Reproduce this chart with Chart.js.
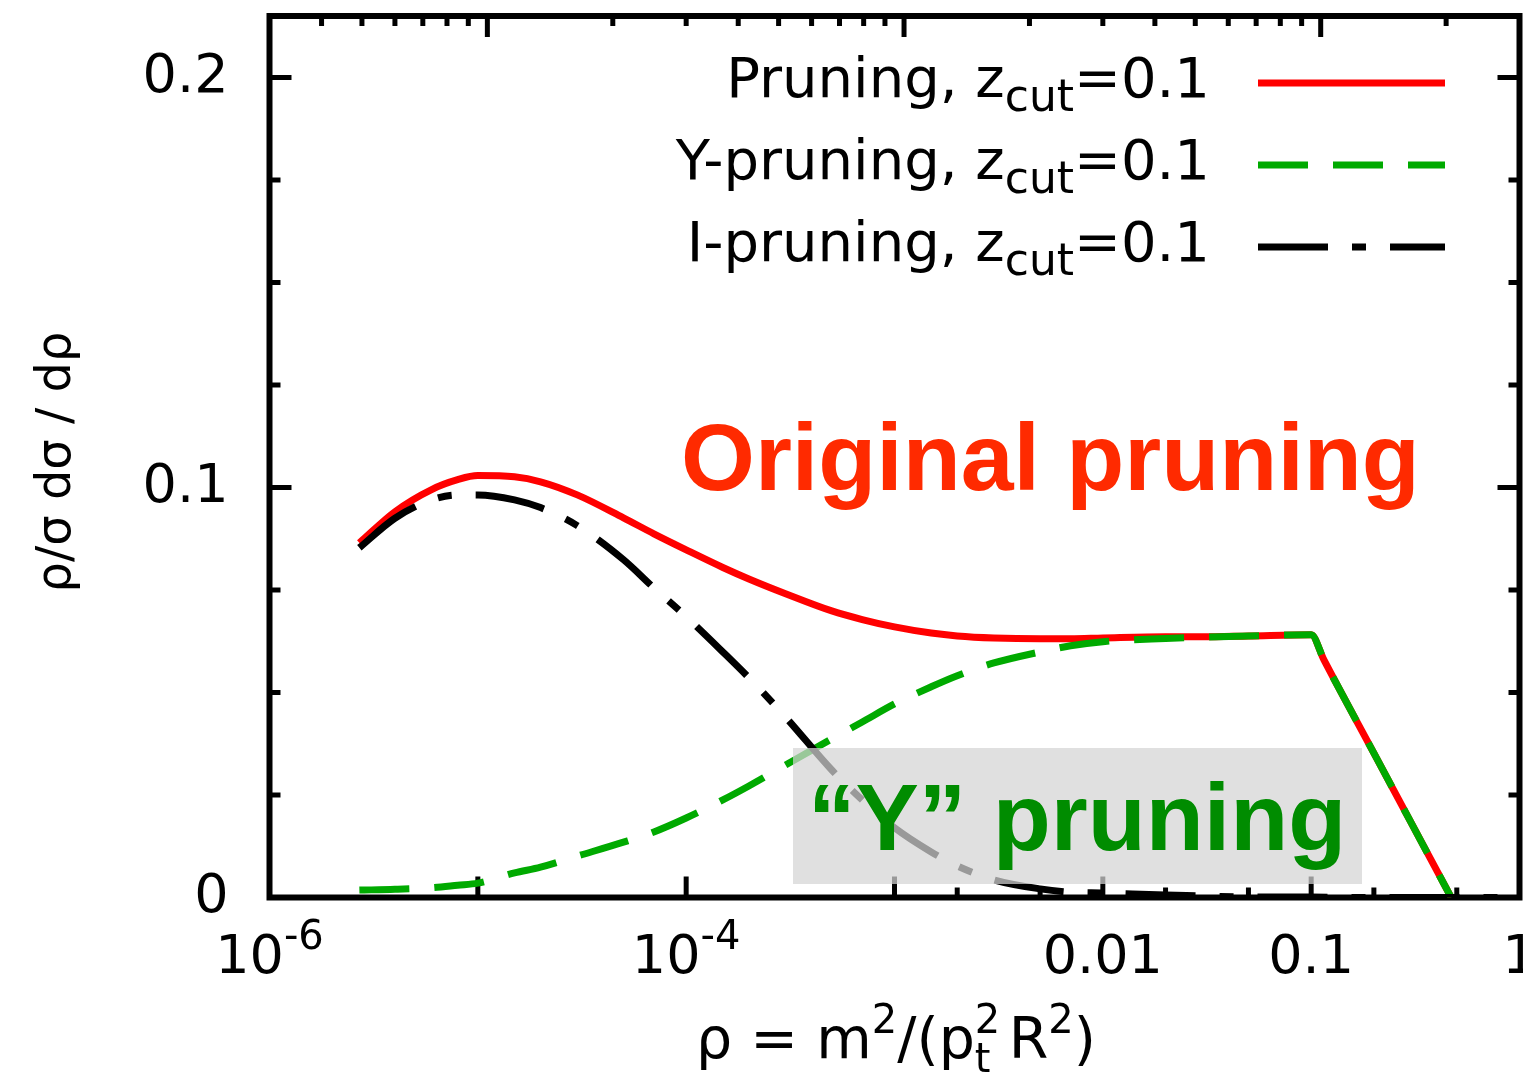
<!DOCTYPE html>
<html>
<head>
<meta charset="utf-8">
<script src="https://cdn.jsdelivr.net/npm/chart.js@4.4.1/dist/chart.umd.min.js"></script>
<style>
  body { margin: 0; background: #fff; overflow: hidden; }
  #wrap { width: 1523px; height: 1072px; }
</style>
</head>
<body>
<div id="wrap"><canvas id="grafica"></canvas></div>
<script>
// rho = m^2/(pt^2 R^2) where the curves were read
const rho = [2.7e-6, 4e-6, 6e-6, 8e-6, 1e-5, 1.5e-5, 2e-5, 3e-5, 5e-5, 7e-5,
  1e-4, 1.5e-4, 2e-4, 3e-4, 5e-4, 7e-4, 1e-3, 1.5e-3, 2e-3, 3e-3, 5e-3, 7e-3,
  1e-2, 2e-2, 3e-2, 5e-2, 0.1, 0.115, 0.2, 0.3, 0.47];
const rhoI = [2.7e-6, 4e-6, 6e-6, 8e-6, 1e-5, 1.5e-5, 2e-5, 3e-5, 5e-5, 7e-5,
  1e-4, 1.5e-4, 2e-4, 3e-4, 5e-4, 7e-4, 1e-3, 1.5e-3, 2e-3, 3e-3, 5e-3, 7e-3,
  1e-2, 2e-2, 3e-2, 5e-2, 0.1, 0.2, 0.5, 1];

const pruning = [0.0865, 0.0941, 0.0995, 0.1019, 0.1029, 0.1026, 0.1014, 0.0982, 0.0926, 0.0887,
  0.0848, 0.0805, 0.0777, 0.0741, 0.0699, 0.0678, 0.0660, 0.0645, 0.0638, 0.0633, 0.0631, 0.0631,
  0.0633, 0.0636, 0.0636, 0.0638, 0.0641, 0.0580, 0.0352, 0.0185, 0];
const yPruning = [0.0018, 0.0020, 0.0024, 0.0030, 0.0035, 0.0060, 0.0074, 0.0101, 0.0135, 0.0160,
  0.0194, 0.0238, 0.0272, 0.0323, 0.0387, 0.0428, 0.0472, 0.0514, 0.0541, 0.0572, 0.0599, 0.0614,
  0.0624, 0.0632, 0.0635, 0.0638, 0.0641, 0.0580, 0.0352, 0.0185, 0];
const iPruning = [0.0853, 0.0925, 0.0970, 0.0982, 0.0982, 0.0970, 0.0951, 0.0907, 0.0824, 0.0755,
  0.0685, 0.0599, 0.0536, 0.0440, 0.0311, 0.0238, 0.0170, 0.0111, 0.0077, 0.0043, 0.0021, 0.0013,
  0.0011, 0.0006, 0.0004, 0.0001, 0.0001, 0, 0, 0];

const seriesLabels = ['Pruning, z{cut}=0.1', 'Y-pruning, z{cut}=0.1', 'I-pruning, z{cut}=0.1'];

// ticks
const yTickValues = [0, 0.1, 0.2];
const yTickLabels = ['0', '0.1', '0.2'];
const yMinor = [0.025, 0.05, 0.075, 0.125, 0.15, 0.175];
const xMajor = [1e-5, 1e-4, 1e-3, 1e-2, 0.1];
const xMinor = [2e-3, 5e-3, 2e-2, 5e-2, 0.2, 0.5];
const xLabelValues = [1e-6, 1e-4, 0.01, 0.1, 1];
const xLabelBase = ['10', '10', '0.01', '0.1', '1'];
const xLabelSup = ['-6', '-4', '', '', ''];
// top axis is the jet mass, m = 3000*sqrt(rho)
const mScale = 3000;
const topMajor = [10, 100, 1000];
const topMinor = [4, 5, 6, 7, 8, 9, 20, 30, 40, 50, 60, 70, 80, 90,
  200, 300, 400, 500, 600, 700, 800, 900, 2000];

const FONT = '"DejaVu Sans", sans-serif';

function pts(xs, ys) {
  return ys.map((v, i) => ({ x: xs[i], y: v }));
}

// text with sub/superscripts: parts = [text, size, dy, noAdvance]
function drawParts(ctx, parts, x, y, align) {
  let w = 0;
  parts.forEach(p => {
    ctx.font = p[1] + 'px ' + FONT;
    if (!p[3]) w += ctx.measureText(p[0]).width;
  });
  let cx = align === 'right' ? x - w : (align === 'center' ? x - w / 2 : x);
  ctx.textAlign = 'left';
  ctx.textBaseline = 'alphabetic';
  parts.forEach(p => {
    ctx.font = p[1] + 'px ' + FONT;
    ctx.fillText(p[0], cx, y + p[2]);
    if (!p[3]) cx += ctx.measureText(p[0]).width;
  });
}

function tickLine(ctx, x1, y1, x2, y2) {
  ctx.beginPath();
  ctx.moveTo(x1, y1);
  ctx.lineTo(x2, y2);
  ctx.stroke();
}

const decor = {
  id: 'decor',
  beforeDatasetsDraw(chart) {
    const ctx = chart.ctx, a = chart.chartArea;
    const xs = chart.scales.x, ys = chart.scales.y;
    ctx.save();
    ctx.strokeStyle = '#000';
    ctx.lineWidth = 6;
    ctx.strokeRect(a.left, a.top, a.right - a.left, a.bottom - a.top);
    ctx.lineWidth = 5;
    // bottom axis
    xMajor.forEach(v => { const p = xs.getPixelForValue(v); tickLine(ctx, p, a.bottom, p, a.bottom - 21); });
    xMinor.forEach(v => { const p = xs.getPixelForValue(v); tickLine(ctx, p, a.bottom, p, a.bottom - 10); });
    // top axis (mass)
    topMajor.forEach(m => { const p = xs.getPixelForValue(Math.pow(m / mScale, 2)); tickLine(ctx, p, a.top, p, a.top + 21); });
    topMinor.forEach(m => { const p = xs.getPixelForValue(Math.pow(m / mScale, 2)); tickLine(ctx, p, a.top, p, a.top + 10); });
    // left and right
    yTickValues.forEach(v => {
      const p = ys.getPixelForValue(v);
      tickLine(ctx, a.left, p, a.left + 22, p);
      tickLine(ctx, a.right, p, a.right - 22, p);
    });
    yMinor.forEach(v => {
      const p = ys.getPixelForValue(v);
      tickLine(ctx, a.left, p, a.left + 11, p);
      tickLine(ctx, a.right, p, a.right - 11, p);
    });
    ctx.restore();
  },
  afterDatasetsDraw(chart) {
    const ctx = chart.ctx, xs = chart.scales.x;
    ctx.save();
    // grey box behind "Y" pruning
    ctx.fillStyle = 'rgba(212,212,212,0.72)';
    ctx.fillRect(793, 748, 569, 136);
    ctx.font = 'bold 95px "Liberation Sans", Arial, sans-serif';
    ctx.textAlign = 'left';
    ctx.textBaseline = 'alphabetic';
    ctx.fillStyle = '#008c00';
    ctx.fillText('\u201CY\u201D pruning', 808, 850);
    ctx.fillStyle = '#ff2a00';
    ctx.fillText('Original pruning', 681, 490);

    // legend
    ctx.fillStyle = '#000';
    chart.data.datasets.forEach((ds, i) => {
      const base = 97 + i * 82;
      const bits = ds.label.split(/\{|\}/);
      drawParts(ctx, [[bits[0], 56, 0], [bits[1], 44, 14], [bits[2], 56, 0]], 1210, base, 'right');
      ctx.save();
      ctx.strokeStyle = ds.borderColor;
      ctx.lineWidth = ds.borderWidth;
      ctx.setLineDash(ds.borderDash || []);
      tickLine(ctx, 1258, base - 14, 1445, base - 14);
      ctx.restore();
    });

    // x tick labels
    xLabelValues.forEach((v, i) => {
      const p = xs.getPixelForValue(v);
      const parts = [[xLabelBase[i], 54, 0]];
      if (xLabelSup[i]) parts.push([xLabelSup[i], 40, -24]);
      drawParts(ctx, parts, p, 973, 'center');
    });

    // axis titles
    drawParts(ctx, [['\u03C1 = m', 57, 0], ['2', 40, -25], ['/(p', 57, 0], ['2', 40, -25, true],
      ['t', 40, 14], [' R', 57, 0], ['2', 40, -25], [')', 57, 0]], 896, 1058, 'center');
    ctx.save();
    ctx.translate(70, 462);
    ctx.rotate(-Math.PI / 2);
    drawParts(ctx, [['\u03C1/\u03C3 d\u03C3 / d\u03C1', 48, 0]], 0, 0, 'center');
    ctx.restore();
    ctx.restore();
  }
};

new Chart(document.getElementById('grafica'), {
  type: 'line',
  data: {
    datasets: [
      { label: seriesLabels[0], data: pts(rho, pruning), borderColor: '#ff0000', borderWidth: 7, order: 3 },
      { label: seriesLabels[1], data: pts(rho, yPruning), borderColor: '#00aa00', borderWidth: 7,
        borderDash: [50, 25], order: 2 },
      { label: seriesLabels[2], data: pts(rhoI, iPruning), borderColor: '#000000', borderWidth: 7,
        borderDash: [70, 24, 14, 24], order: 1 }
    ]
  },
  options: {
    responsive: true,
    maintainAspectRatio: false,
    animation: false,
    layout: { padding: { top: 16, right: 3.5, left: 0, bottom: 0 } },
    plugins: { legend: { display: false }, tooltip: { enabled: false } },
    elements: { point: { radius: 0 }, line: { cubicInterpolationMode: 'monotone', borderCapStyle: 'butt' } },
    scales: {
      x: {
        type: 'logarithmic', min: 1e-6, max: 1,
        grid: { display: false }, border: { display: false }, ticks: { display: false },
        afterFit(s) { s.height = 174.5; s.paddingLeft = 0; s.paddingRight = 0; }
      },
      y: {
        min: 0, max: 0.215,
        grid: { display: false, drawTicks: false }, border: { display: false },
        afterBuildTicks(s) { s.ticks = yTickValues.map(v => ({ value: v })); },
        ticks: {
          callback: (v, i) => yTickLabels[i],
          font: { family: 'DejaVu Sans', size: 54 }, color: '#000', padding: 41
        },
        afterFit(s) { s.width = 269.5; s.paddingTop = 0; s.paddingBottom = 0; }
      }
    }
  },
  plugins: [decor]
});
</script>
</body>
</html>
